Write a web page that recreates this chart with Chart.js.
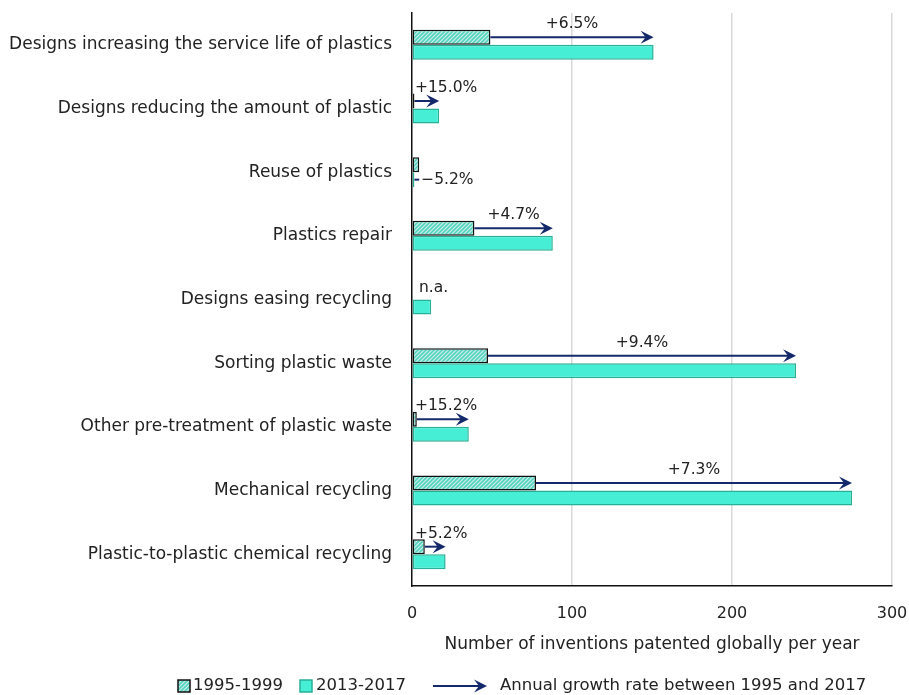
<!DOCTYPE html>
<html>
<head>
<meta charset="utf-8">
<script src="https://cdn.jsdelivr.net/npm/chart.js@4.4.0/dist/chart.umd.min.js"></script>
<style>
  html, body { margin: 0; padding: 0; background: #fff; }
  #wrap { width: 909px; height: 695px; }
</style>
</head>
<body>
<div id="wrap"><canvas id="chart" width="909" height="695"></canvas></div>
<script>
const categories = [
  'Designs increasing the service life of plastics',
  'Designs reducing the amount of plastic',
  'Reuse of plastics',
  'Plastics repair',
  'Designs easing recycling',
  'Sorting plastic waste',
  'Other pre-treatment of plastic waste',
  'Mechanical recycling',
  'Plastic-to-plastic chemical recycling'
];
const early = [49, 1.5, 4.5, 39, null, 47.5, 3, 77.5, 8];   // 1995-1999
const late = [151, 17, 1.5, 88, 12, 240, 35.5, 275, 21];     // 2013-2017
const growth = ['+6.5%', '+15.0%', '\u22125.2%', '+4.7%', 'n.a.', '+9.4%', '+15.2%', '+7.3%', '+5.2%'];
const xTicks = [0, 100, 200, 300];

const FONT = 'DejaVu Sans';
const TEXT = '#222';
const NAVY = '#14296b';
const TEAL = '#45eed4';
const TEAL_DARK = '#27b096';

function hatch(ctx) {
  const c = document.createElement('canvas');
  c.width = 4; c.height = 4;
  const g = c.getContext('2d');
  g.fillStyle = '#cdeee8';
  g.fillRect(0, 0, 4, 4);
  g.strokeStyle = '#52d4c0';
  g.lineWidth = 1.6;
  g.beginPath();
  g.moveTo(-1, 5); g.lineTo(5, -1);
  g.moveTo(-1, 1); g.lineTo(1, -1);
  g.moveTo(3, 5); g.lineTo(5, 3);
  g.stroke();
  return ctx.createPattern(c, 'repeat');
}

function drawArrow(ctx, x1, x2, y, head) {
  ctx.save();
  ctx.strokeStyle = NAVY;
  ctx.fillStyle = NAVY;
  ctx.lineWidth = 2;
  const dir = x2 >= x1 ? 1 : -1;
  ctx.beginPath();
  ctx.moveTo(x1, y);
  ctx.lineTo(head ? x2 - dir * 4 : x2, y);
  ctx.stroke();
  if (head) {
    ctx.beginPath();
    ctx.moveTo(x2, y);
    ctx.lineTo(x2 - dir * 13, y - 6.5);
    ctx.lineTo(x2 - dir * 8, y);
    ctx.lineTo(x2 - dir * 13, y + 6.5);
    ctx.closePath();
    ctx.fill();
  }
  ctx.restore();
}

const ctx = document.getElementById('chart').getContext('2d');
const hatchFill = hatch(ctx);

const arrowPlugin = {
  id: 'arrows',
  afterDatasetsDraw(chart) {
    const c = chart.ctx;
    const x = chart.scales.x;
    const m0 = chart.getDatasetMeta(0).data;
    const m1 = chart.getDatasetMeta(1).data;
    c.save();
    c.font = '15.5px "' + FONT + '"';
    c.fillStyle = TEXT;
    c.textBaseline = 'middle';
    growth.forEach((g, i) => {
      const y0 = m0[i].y;
      const y1 = m1[i].y;
      if (early[i] == null) {
        c.textAlign = 'left';
        c.fillText(g, x.left + 7, y0 - 4);
        return;
      }
      const xa = x.getPixelForValue(early[i]);
      const xb = x.getPixelForValue(late[i]);
      if (late[i] < early[i]) {
        drawArrow(c, xa, xb, y1, false);
        c.textAlign = 'left';
        c.fillText(g, xa + 2, y1);
        return;
      }
      drawArrow(c, xa, xb, y0, true);
      const w = c.measureText(g).width;
      let cx = (xa + xb) / 2;
      if (cx - w / 2 < x.left + 3) cx = x.left + 3 + w / 2;
      c.textAlign = 'center';
      c.fillText(g, cx, y0 - 13);
    });
    c.restore();
  }
};

const legendPlugin = {
  id: 'customLegend',
  afterDraw(chart) {
    const c = chart.ctx;
    const y = 686;
    c.save();
    c.font = '16.5px "' + FONT + '"';
    c.fillStyle = TEXT;
    c.textBaseline = 'middle';
    c.textAlign = 'left';
    // 1995-1999
    c.fillStyle = hatchFill;
    c.fillRect(178, y - 6, 12, 12);
    c.strokeStyle = '#111';
    c.lineWidth = 1.5;
    c.strokeRect(178, y - 6, 12, 12);
    c.fillStyle = TEXT;
    c.fillText('1995-1999', 193, y);
    // 2013-2017
    c.fillStyle = TEAL;
    c.fillRect(300, y - 6, 12, 12);
    c.strokeStyle = TEAL_DARK;
    c.strokeRect(300, y - 6, 12, 12);
    c.fillStyle = TEXT;
    c.fillText('2013-2017', 316, y);
    drawArrow(c, 433, 487, y, true);
    c.fillStyle = TEXT;
    c.fillText('Annual growth rate between 1995 and 2017', 500, y);
    c.restore();
  }
};

new Chart(ctx, {
  type: 'bar',
  data: {
    labels: categories,
    datasets: [
      {
        label: '1995-1999',
        data: early,
        backgroundColor: hatchFill,
        borderColor: '#111',
        borderWidth: 1.5,
        borderSkipped: false,
        categoryPercentage: 0.47,
        barPercentage: 1.0
      },
      {
        label: '2013-2017',
        data: late,
        backgroundColor: TEAL,
        borderColor: TEAL_DARK,
        borderWidth: 1.5,
        borderSkipped: false,
        categoryPercentage: 0.47,
        barPercentage: 1.0
      }
    ]
  },
  options: {
    indexAxis: 'y',
    responsive: false,
    animation: false,
    layout: { padding: { left: 0, right: 17, top: 13, bottom: 40 } },
    plugins: {
      legend: { display: false },
      tooltip: { enabled: false }
    },
    scales: {
      x: {
        min: 0,
        max: 300,
        afterBuildTicks(scale) { scale.ticks = xTicks.map(v => ({ value: v })); },
        afterFit(scale) {
          scale.height = 69;
          scale.paddingLeft = 0;
          scale.paddingRight = 0;
        },
        grid: {
          color: ctx => ctx.tick && ctx.tick.value === 0 ? 'rgba(0,0,0,0)' : '#d9d9d9',
          lineWidth: 1.5,
          drawTicks: false
        },
        border: { color: '#111', width: 1.5 },
        ticks: { color: TEXT, font: { family: FONT, size: 16 }, padding: 18 },
        title: {
          display: true,
          text: 'Number of inventions patented globally per year',
          color: TEXT,
          font: { family: FONT, size: 17 },
          padding: 0
        }
      },
      y: {
        afterFit(scale) {
          scale.width = 412;
          scale.paddingTop = 0;
          scale.paddingBottom = 0;
        },
        grid: { display: false, drawTicks: false },
        border: { color: '#111', width: 1.5 },
        ticks: { color: TEXT, font: { family: FONT, size: 17 }, padding: 20 }
      }
    }
  },
  plugins: [arrowPlugin, legendPlugin]
});
</script>
</body>
</html>
